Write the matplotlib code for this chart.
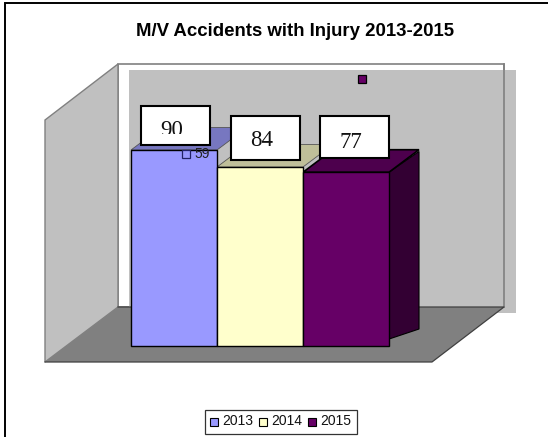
import matplotlib
matplotlib.use('Agg')
import matplotlib.pyplot as plt
from matplotlib.patches import Polygon, Rectangle

plt.rcParams['font.family'] = ['Liberation Sans', 'DejaVu Sans']

W, H = 548, 437

title = 'M/V Accidents with Injury 2013-2015'
years = ['2013', '2014', '2015']
labels = ['90', '84', '77']
# drawn bar heights, they do not quite follow the labels
heights = [90, 82.2, 79.8]
face_colors = ['#9999ff', '#ffffcc', '#660066']
top_colors = ['#7777c0', '#bfbf99', '#4d004d']
stray_x = [0.14, 2.186]
stray_y = [88.2, 122.6]

fig = plt.figure(figsize=(W / 100, H / 100), dpi=100)

# pixel axes for the room
bg = fig.add_axes([0, 0, 1, 1])
bg.set_xlim(0, W)
bg.set_ylim(H, 0)
bg.axis('off')

# chart border, open at the right and the bottom
bg.plot([5, 5, W], [H, 3, 3], color='black', lw=1.4, solid_joinstyle='miter')

# back wall, its gray part sits shifted from the white frame
bg.add_patch(Rectangle((118, 64), 386, 243, fc='white', ec='#808080', lw=1.2, zorder=1))
bg.add_patch(Rectangle((129, 70), 387, 243, fc='#c0c0c0', ec='none', zorder=2))
bg.plot([504, 504], [64, 307], color='#808080', lw=1.2, zorder=3)
bg.add_patch(Polygon([(45, 120), (118, 64), (118, 307), (45, 362)],
                     fc='#c0c0c0', ec='#808080', lw=1, zorder=3))
bg.add_patch(Polygon([(118, 307), (504, 307), (432, 362), (45, 362)],
                     fc='#808080', ec='none', zorder=4))
bg.plot([118, 504, 432, 45], [307, 307, 362, 362], color='#404040', lw=0.9, zorder=4)

# bars in their own axes, value scale 0-90 over 196 pixels
ax = fig.add_axes([131 / W, 1 - 346 / H, 258 / W, 196 / H])
ax.set_xlim(-0.5, 2.5)
ax.set_ylim(0, 90)
ax.axis('off')

dx = 30 / 86
dy = 22.5 / 196 * 90

for i, h in enumerate(heights):
    left, right = i - 0.5, i + 0.5
    if i == 2:
        # only the last bar shows its side
        ax.add_patch(Polygon([(right, h), (right + dx, h + dy - 0.8), (right + dx, 7.8), (right, 3.2)],
                             fc='#330033', ec='black', lw=0.8, clip_on=False, zorder=2))
    ax.add_patch(Polygon([(left, h), (left + dx, h + dy), (right + dx, h + dy), (right, h)],
                         fc=top_colors[i], ec='black' if i == 2 else '#555555',
                         lw=1.2 if i == 2 else 0.6, clip_on=False, zorder=2))

ax.bar(range(3), heights, width=1, color=face_colors, edgecolor='black', linewidth=1.0,
       clip_on=False, zorder=3)

# stray markers left in the chart
ax.plot(stray_x[0], stray_y[0], 's', ms=5.5, mfc=face_colors[0], mec='#222266', mew=0.9,
        clip_on=False, zorder=4)
ax.plot(stray_x[1], stray_y[1], 's', ms=5.5, mfc=face_colors[2], mec='black', mew=0.9,
        clip_on=False, zorder=4)
ax.annotate('59', (stray_x[0], stray_y[0]), xytext=(8, 0), textcoords='offset pixels',
            fontsize=10, va='center', color='#222222', zorder=4, annotation_clip=False)

# overlay for boxes, title and legend, they lie above the bars
top = fig.add_axes([0, 0, 1, 1])
top.set_xlim(0, W)
top.set_ylim(H, 0)
top.axis('off')

box_left = [141, 231, 320]
box_top = [106, 116, 116]
box_bottom = [145, 160, 158]
text_x = [172, 262, 351]
text_y = [131, 141, 142]
for i, s in enumerate(labels):
    top.add_patch(Rectangle((box_left[i], box_top[i]), 69, box_bottom[i] - box_top[i],
                            fc='white', ec='black', lw=1.5, zorder=6))
    t = top.text(text_x[i], text_y[i], s, family='Liberation Serif', fontsize=16.5,
                 ha='center', va='center', color='#111111', zorder=7)
    if i == 0:
        # the 90 is cut off at its foot in the original
        t.set_clip_path(Rectangle((141, 106), 69, 27.5, transform=top.transData))
        t.set_clip_on(True)

top.text(295, 31, title, fontsize=13.4, fontweight='bold', ha='center', va='center', color='black')

# legend
top.add_patch(Rectangle((204.5, 409.5), 152, 24.5, fc='white', ec='#333333', lw=0.9))
key_x = [210, 259, 308]
for k, y, c in zip(key_x, years, face_colors):
    top.add_patch(Rectangle((k, 418), 7.5, 7.5, fc=c, ec='black', lw=0.8))
    top.text(k + 12, 421, y, fontsize=10, ha='left', va='center', color='#111111')

fig.savefig('out.png', dpi=100, facecolor='white')
